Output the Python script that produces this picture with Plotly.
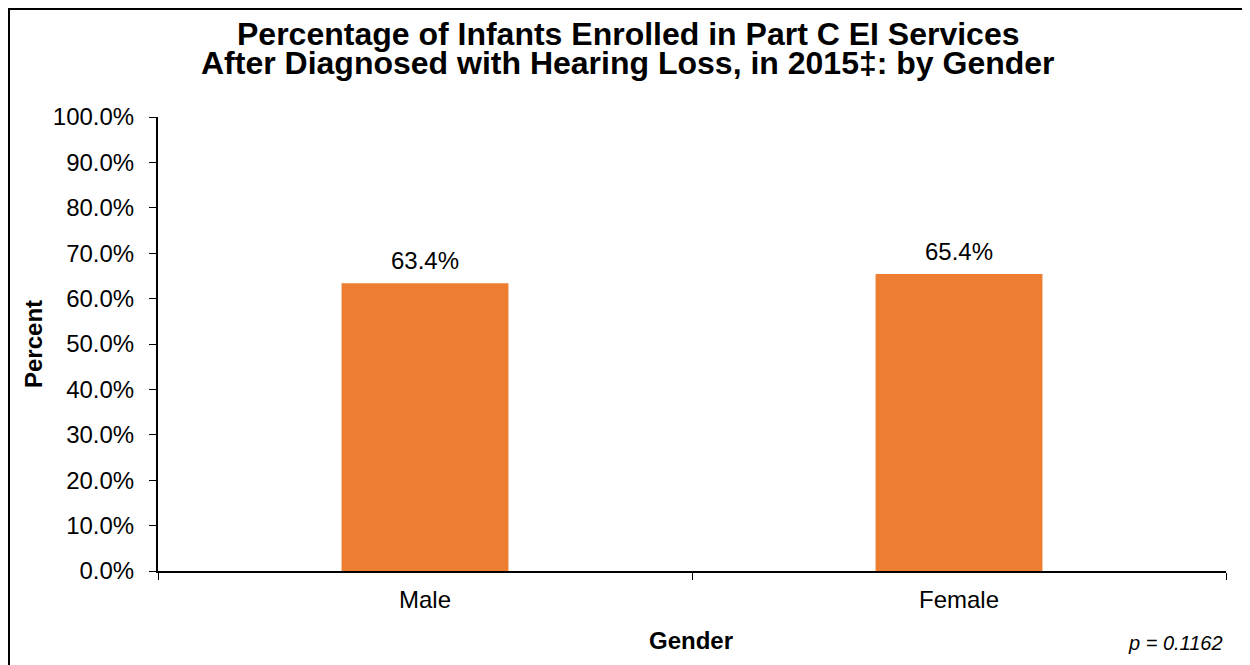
import plotly.graph_objects as go

categories = ["Male", "Female"]
values = [63.4, 65.4]
labels = ["63.4%", "65.4%"]
y_ticks = [0, 10, 20, 30, 40, 50, 60, 70, 80, 90, 100]
y_tick_labels = [f"{v:.1f}%" for v in y_ticks]
title_lines = ["Percentage of Infants Enrolled in Part C EI Services",
               "After Diagnosed with Hearing Loss, in 2015\u2021: by Gender"]

FONT = "Liberation Sans, Arial, sans-serif"
W, H = 1250, 665
L, R, T, B = 150, 32, 109, 102
pw, ph = W - L - R, H - T - B

def px(x):
    return (x - L) / pw

def py(y):
    return (H - B - y) / ph

fig = go.Figure(go.Bar(
    x=categories, y=values,
    marker=dict(color="#ED7D31", line=dict(width=0)),
    hoverinfo="x+y",
))

for cat, val, lab in zip(categories, values, labels):
    fig.add_annotation(x=cat, y=val, text=lab, showarrow=False,
                       xanchor="center", yanchor="bottom", yshift=7,
                       font=dict(family=FONT, size=24, color="black"))

fig.update_layout(
    width=W, height=H,
    margin=dict(l=L, r=R, t=T, b=B),
    paper_bgcolor="white", plot_bgcolor="white",
    bargap=0.6875,
    showlegend=False,
    font=dict(family=FONT, color="black"),
)

fig.update_xaxes(
    showline=True, linecolor="black", linewidth=2,
    ticks="outside", tickson="boundaries", ticklen=7, tickcolor="black", tickwidth=1,
    tickfont=dict(family=FONT, size=24, color="black"),
    ticklabelstandoff=6,
    showgrid=False, zeroline=False,
)
fig.update_yaxes(
    range=[0, 100], tickvals=y_ticks, ticktext=y_tick_labels,
    showline=True, linecolor="black", linewidth=2,
    ticks="outside", ticklen=7, tickcolor="black", tickwidth=1,
    tickfont=dict(family=FONT, size=24, color="black"),
    ticklabelstandoff=10,
    showgrid=False, zeroline=False,
)

for line, yc in zip(title_lines, [26, 55]):
    fig.add_annotation(text=f"<b>{line}</b>", xref="paper", yref="paper",
                       x=px(620), y=py(yc), showarrow=False,
                       xanchor="center", yanchor="middle",
                       font=dict(family=FONT, size=32, color="black"))

fig.add_annotation(text="<b>Percent</b>", xref="paper", yref="paper",
                   x=px(25), y=0.5, textangle=-90, showarrow=False,
                   xanchor="center", yanchor="middle",
                   font=dict(family=FONT, size=24, color="black"))
fig.add_annotation(text="<b>Gender</b>", xref="paper", yref="paper",
                   x=px(683), y=py(632), showarrow=False,
                   xanchor="center", yanchor="middle",
                   font=dict(family=FONT, size=24, color="black"))
fig.add_annotation(text="<i>p = 0.1162</i>", xref="paper", yref="paper",
                   x=px(1217), y=py(635), xanchor="right", yanchor="middle",
                   showarrow=False,
                   font=dict(family=FONT, size=20, color="black"))

fig.add_shape(type="rect", xref="paper", yref="paper",
              x0=px(1), y0=py(1), x1=px(1262), y1=py(680),
              line=dict(color="black", width=2), fillcolor="rgba(0,0,0,0)", layer="above")

fig.write_html("out.html")
